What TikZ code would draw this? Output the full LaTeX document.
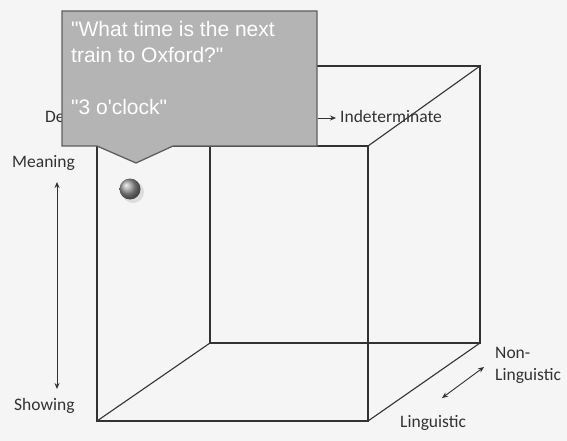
\documentclass[tikz,border=0pt]{standalone}
\usepackage{fontspec}
\setmainfont{Carlito}
\newfontfamily\arialf{Liberation Sans}
\usetikzlibrary{arrows.meta}
\definecolor{bgc}{RGB}{245,245,245}
\definecolor{edgec}{RGB}{50,50,50}
\definecolor{labc}{RGB}{50,50,50}
\definecolor{callfill}{RGB}{180,180,180}
\definecolor{callbord}{RGB}{95,95,95}
\tikzset{
  edge/.style={draw=edgec, line width=1.1pt},
  lab/.style={font=\fontsize{17.5}{20}\selectfont, text=labc, inner sep=0pt, anchor=base west},
  qtext/.style={font=\arialf\fontsize{21}{26}\selectfont, text=white, inner sep=0pt, anchor=base west},
  dbl/.style={draw=edgec, line width=0.9pt, {Stealth[length=6pt,width=5pt]}-{Stealth[length=6pt,width=5pt]}},
  sgl/.style={draw=edgec, line width=0.9pt, -{Stealth[length=6pt,width=5pt]}},
}
\begin{document}
\begin{tikzpicture}[x=1pt,y=-1pt]
\fill[bgc] (0,0) rectangle (567,441);
\useasboundingbox (0,0) rectangle (567,441);
% cube vertices
\coordinate (F1) at (97,146);
\coordinate (F2) at (368,146);
\coordinate (F3) at (368,421);
\coordinate (F4) at (97,421);
\coordinate (B1) at (210,66);
\coordinate (B2) at (480,66);
\coordinate (B3) at (480,343);
\coordinate (B4) at (210,343);
\draw[edge] (F1) -- (F2) -- (F3) -- (F4) -- cycle;
\draw[edge] (B1) -- (B2) -- (B3) -- (B4) -- cycle;
\draw[edge] (F1) -- (B1);
\draw[edge] (F2) -- (B2);
\draw[edge] (F3) -- (B3);
\draw[edge] (F4) -- (B4);
% labels
\node[lab] (det) at (45,122) {De};
\node[lab] (ind) at (340,122) {Indeterminate};
\node[lab] (mea) at (12,167) {Meaning};
\node[lab] (sho) at (14,410) {Showing};
\node[lab] (non1) at (495,358) {Non-};
\node[lab] (non2) at (495,380) {Linguistic};
\node[lab] (lin) at (400,427) {Linguistic};
\coordinate (mTop) at (57,182);
\coordinate (mBot) at (57,389);
\draw[dbl] (mTop) -- (mBot);
\coordinate (lA) at (442,398);
\coordinate (lB) at (484,367);
\draw[dbl] (lA) -- (lB);
% callout
\draw[fill=callfill, draw=callbord, line width=1.3pt, line join=miter]
  (62,11) -- (317,11) -- (317,146) -- (173,146) -- (136,163) -- (97,146) -- (62,146) -- cycle;
\coordinate (arS) at (318,118);
\draw[sgl] (arS) -- (336,118);
\node[qtext] (q1) at (71,37) {"What time is the next};
\node[qtext] (q2) at (71,63) {train to Oxford?"};
\node[qtext] (q3) at (71,115) {"3 o'clock"};
% sphere
\fill[gray!40, opacity=0.6] (133,192) circle (11);
\shade[ball color=gray!80] (130,189) circle (10.5);
\end{tikzpicture}
\end{document}
